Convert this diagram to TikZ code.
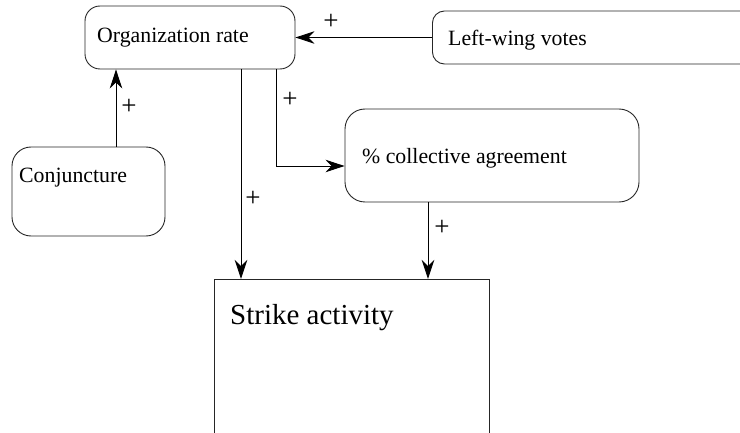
\documentclass[tikz,border=0pt]{standalone}
\usepackage{fontspec}
\setmainfont{Liberation Serif}
\usetikzlibrary{arrows.meta}
\begin{document}
\begin{tikzpicture}[x=1pt,y=-1pt,
  box/.style={draw=black!85, line width=0.9pt, rounded corners=#1, inner sep=0pt},
  sharpbox/.style={draw=black!85, line width=0.9pt, inner sep=0pt},
  lbl/.style={anchor=base west, inner sep=0pt, font=\fontsize{21.8}{24}\selectfont},
  big/.style={anchor=base west, inner sep=0pt, font=\fontsize{29}{32}\selectfont},
  sign/.style={inner sep=0pt, font=\fontsize{27}{30}\selectfont},
  arr/.style={line width=0.9pt, -{Stealth[length=19pt, width=12.5pt, inset=6pt]}}]
\clip (0,0) rectangle (740,433);

% boxes
\node[box=15pt, minimum width=210pt, minimum height=63pt] (org) at (190,37.5) {};
\node[box=12pt, minimum width=340pt, minimum height=53pt, anchor=west] (lw) at (432,37.5) {};
\node[box=19pt, minimum width=153pt, minimum height=89pt] (conj) at (88.5,191.5) {};
\node[box=20pt, minimum width=294pt, minimum height=93pt] (coll) at (492,155.5) {};
\node[sharpbox, minimum width=275pt, minimum height=200pt, anchor=north west] (strike) at (214,279) {};

% labels
\node[lbl] (torg) at (97,43) {Organization rate};
\node[lbl] (tlw) at (448,46) {Left-wing votes};
\node[lbl] (tconj) at (19,183) {Conjuncture};
\node[lbl] (tcoll) at (362,164) {\% collective agreement};
\node[big] (tstrike) at (230,324) {Strike activity};

% connectors
\draw[arr] (lw.west) -- (org.east);
\draw[arr] ([xshift=27.5pt]conj.north) -- ([xshift=27.5pt]conj.north |- org.south);
\draw[arr] ([xshift=51pt]org.south) -- ([xshift=51pt]org.south |- strike.north);
\draw[arr] ([xshift=86pt]org.south) |- ([yshift=-10.5pt]coll.west);
\draw[arr] ([xshift=-64pt]coll.south) -- ([xshift=-64pt]coll.south |- strike.north);

% signs
\node[sign] (p1) at (331,22) {+};
\node[sign] (p2) at (129,107) {+};
\node[sign] (p3) at (290,100) {+};
\node[sign] (p4) at (253,199) {+};
\node[sign] (p5) at (442,228) {+};
\end{tikzpicture}
\end{document}
